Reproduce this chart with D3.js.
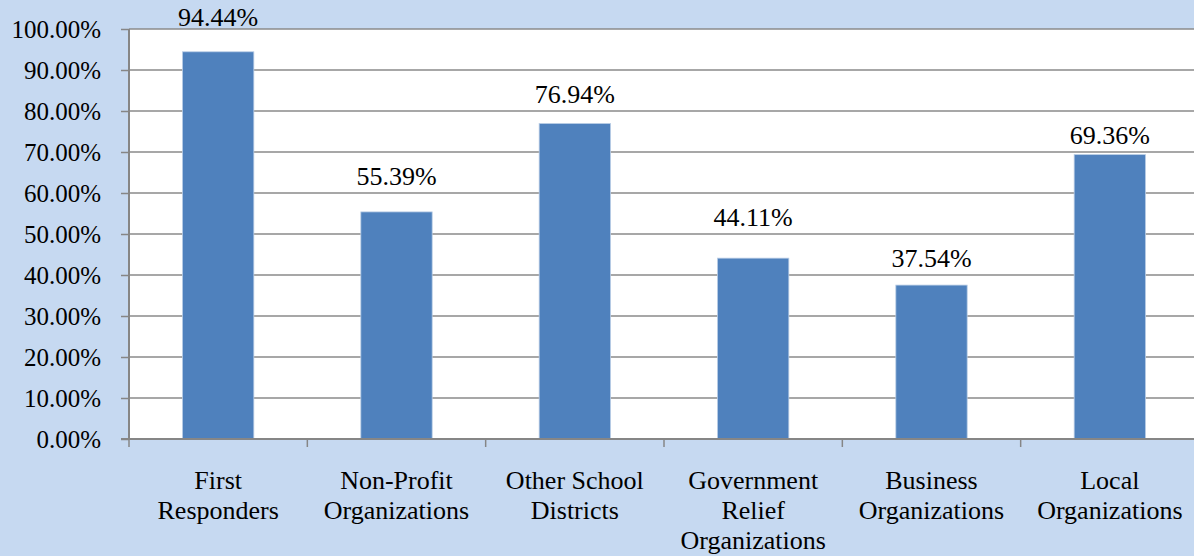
<!DOCTYPE html>
<html>
<head>
<meta charset="utf-8">
<script src="https://cdn.jsdelivr.net/npm/d3@7"></script>
<style>
  body { margin: 0; background: #c6d9f1; overflow: hidden; }
  text { font-family: "Liberation Serif", "Times New Roman", serif; fill: #000; }
</style>
</head>
<body>
<div id="chart"></div>
<script>
// Data
const categories = [
  "First Responders",
  "Non-Profit Organizations",
  "Other School Districts",
  "Government Relief Organizations",
  "Business Organizations",
  "Local Organizations"
];
const labelLines = [
  ["First", "Responders"],
  ["Non-Profit", "Organizations"],
  ["Other School", "Districts"],
  ["Government", "Relief", "Organizations"],
  ["Business", "Organizations"],
  ["Local", "Organizations"]
];
const values = [94.44, 55.39, 76.94, 44.11, 37.54, 69.36];
const yTicks = [0, 10, 20, 30, 40, 50, 60, 70, 80, 90, 100];

(() => {
  const W = 1194, H = 556;
  // plot runs slightly past the right edge of the window, like the original
  const margin = { top: 29, left: 129 };
  const plotW = 1070, plotH = 410;

  const svg = d3.select("#chart").append("svg")
    .attr("width", W).attr("height", H);

  svg.append("rect").attr("width", W).attr("height", H).attr("fill", "#c6d9f1");

  const g = svg.append("g")
    .attr("transform", `translate(${margin.left},${margin.top})`);

  g.append("rect").attr("width", plotW).attr("height", plotH).attr("fill", "#fff");

  const x = d3.scaleBand().domain(categories).range([0, plotW])
    .paddingInner(0.6).paddingOuter(0.3);
  const step = x.step();
  const y = d3.scaleLinear().domain([0, 100]).range([plotH, 0]);

  // gridlines
  g.selectAll(".grid")
    .data(yTicks.filter(d => d > 0))
    .join("line")
    .attr("x1", 0).attr("x2", plotW)
    .attr("y1", d => y(d)).attr("y2", d => y(d))
    .attr("stroke", "#8a8a8a").attr("stroke-width", 1.5);

  // bars
  g.selectAll(".bar")
    .data(values)
    .join("rect")
    .attr("x", (d, i) => x(categories[i]))
    .attr("y", d => y(d))
    .attr("width", x.bandwidth())
    .attr("height", d => plotH - y(d))
    .attr("fill", "#4f81bd")
    .attr("stroke", "#b9cde5").attr("stroke-width", 0.8);

  // y axis
  const yAxis = g.append("g")
    .call(d3.axisLeft(y).tickValues(yTicks).tickSize(8).tickPadding(20)
      .tickFormat(d => d.toFixed(2) + "%"));
  yAxis.select(".domain").attr("stroke", "#868686").attr("stroke-width", 2)
    .attr("d", `M0,0V${plotH}`);
  yAxis.selectAll(".tick line").attr("stroke", "#868686").attr("stroke-width", 1.5);
  yAxis.selectAll("text")
    .style("font-family", '"Liberation Serif", serif')
    .style("font-size", "25px").attr("fill", "#000");

  // x axis line and category ticks
  g.append("line")
    .attr("x1", -8).attr("x2", plotW)
    .attr("y1", plotH).attr("y2", plotH)
    .attr("stroke", "#868686").attr("stroke-width", 2);
  g.selectAll(".xtick")
    .data(d3.range(categories.length + 1))
    .join("line")
    .attr("x1", i => i * step).attr("x2", i => i * step)
    .attr("y1", plotH).attr("y2", plotH + 8)
    .attr("stroke", "#868686").attr("stroke-width", 1.5);

  // category labels
  g.selectAll(".cat")
    .data(labelLines)
    .join("text")
    .attr("text-anchor", "middle")
    .style("font-size", "26px")
    .each(function (lines, i) {
      const cx = x(categories[i]) + x.bandwidth() / 2;
      d3.select(this).selectAll("tspan")
        .data(lines)
        .join("tspan")
        .attr("x", cx)
        .attr("y", (l, j) => plotH + 50 + j * 30)
        .text(l => l);
    });

  // value labels, sitting in the grid band just above each bar
  g.selectAll(".val")
    .data(values)
    .join("text")
    .attr("text-anchor", "middle")
    .style("font-size", "26px")
    .attr("x", (d, i) => x(categories[i]) + x.bandwidth() / 2)
    .attr("y", d => Math.max(-3, y(Math.ceil(d / 10) * 10 + 5) + 12))
    .text(d => d.toFixed(2) + "%");
})();
</script>
</body>
</html>
